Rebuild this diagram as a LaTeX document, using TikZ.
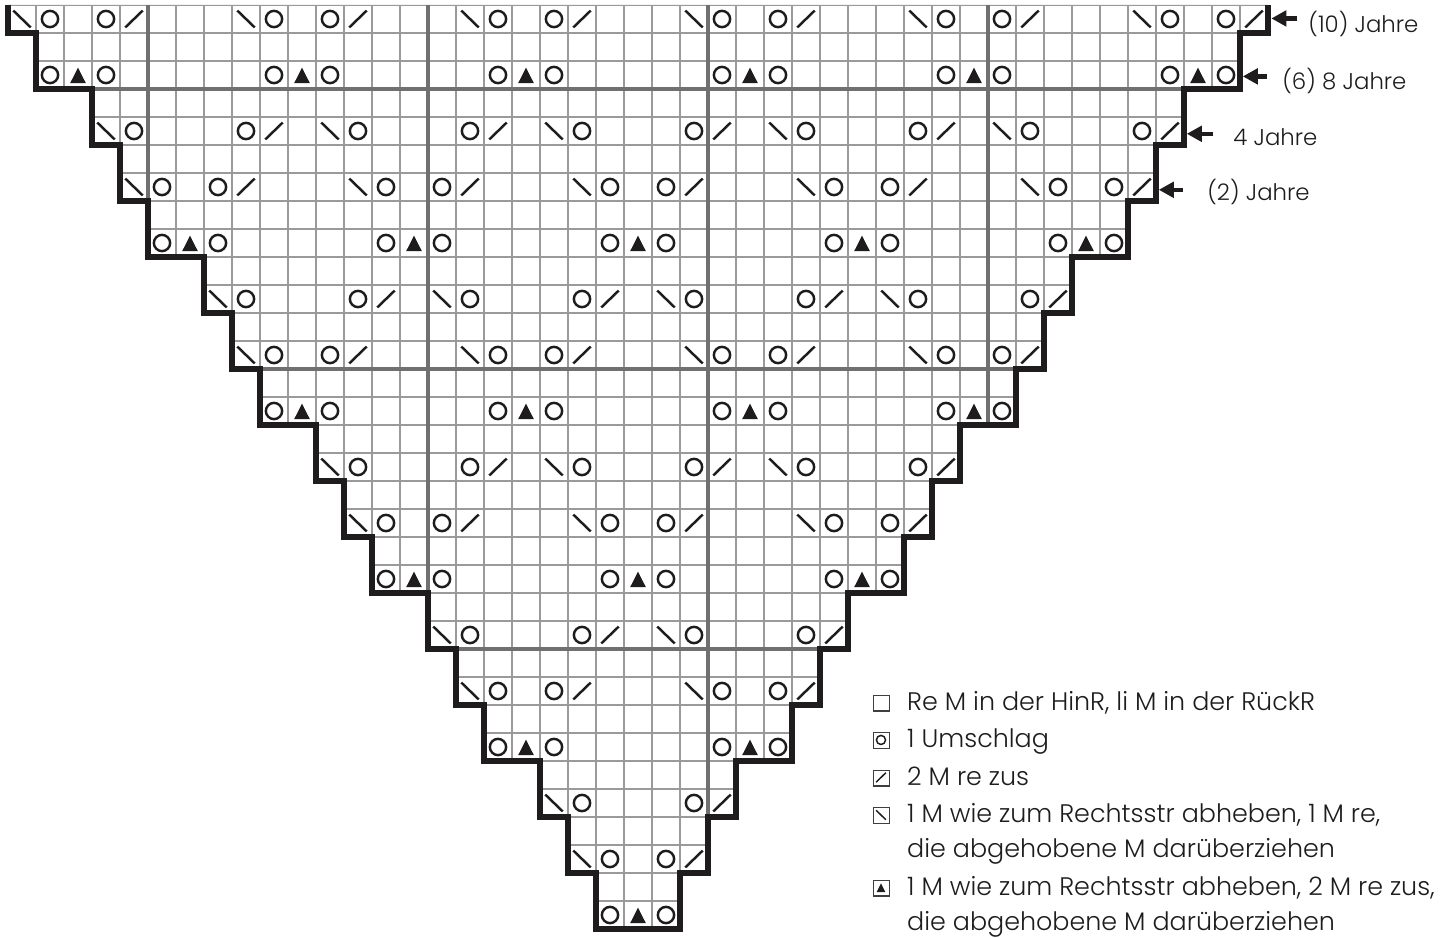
\documentclass[tikz,border=0pt]{standalone}
\usepackage{fontspec}
\setmainfont{Poppins Light}
\usetikzlibrary{arrows.meta}
\definecolor{ChartInk}{HTML}{1E1C1D}
\definecolor{GridThin}{HTML}{9A9A9A}
\definecolor{GridBold}{HTML}{707070}
\tikzset{
  every node/.style={text=ChartInk},
  cellgrid/.style={draw=GridThin, line width=0.6pt},
  boldgrid/.style={draw=GridBold, line width=1.6pt},
  rim/.style={draw=ChartInk, line width=2.8pt, line join=miter},
  stitch/.style={draw=ChartInk, line width=1.25pt},
  pointer/.style={-{Triangle[length=7.6pt,width=7.8pt]}, draw=ChartInk, line width=2.2pt},
  age/.style={font=\fontsize{11.6}{14}\selectfont, inner sep=0pt, anchor=base west},
  keybox/.style={draw=ChartInk!85, line width=0.6pt, minimum size=8pt, inner sep=0pt},
  keytext/.style={font=\fontsize{12.9}{15}\selectfont, inner sep=0pt, anchor=base west},
  yarnover/.pic={\draw[stitch] (0.5,0.5) circle (0.29);},
  ktog/.pic={\draw[stitch] (0.19,0.8) -- (0.81,0.2);},
  skpo/.pic={\draw[stitch] (0.19,0.2) -- (0.81,0.8);},
  sktpo/.pic={\fill[ChartInk] (0.22,0.79) -- (0.5,0.24) -- (0.78,0.79) -- cycle;},
}
% outline of the chart, open at the top edge
\def\chartrim{(0,0) -- (0,1) -- (1,1) -- (1,3) -- (3,3) -- (3,5) -- (4,5) -- (4,7)
  -- (5,7) -- (5,9) -- (7,9) -- (7,11) -- (8,11) -- (8,13) -- (9,13) -- (9,15)
  -- (11,15) -- (11,17) -- (12,17) -- (12,19) -- (13,19) -- (13,21) -- (15,21)
  -- (15,23) -- (16,23) -- (16,25) -- (17,25) -- (17,27) -- (19,27) -- (19,29)
  -- (20,29) -- (20,31) -- (21,31) -- (21,33) -- (24,33) -- (24,31) -- (25,31)
  -- (25,29) -- (26,29) -- (26,27) -- (28,27) -- (28,25) -- (29,25) -- (29,23)
  -- (30,23) -- (30,21) -- (32,21) -- (32,19) -- (33,19) -- (33,17) -- (34,17)
  -- (34,15) -- (36,15) -- (36,13) -- (37,13) -- (37,11) -- (38,11) -- (38,9)
  -- (40,9) -- (40,7) -- (41,7) -- (41,5) -- (42,5) -- (42,3) -- (44,3) -- (44,1)
  -- (45,1) -- (45,0)}
\begin{document}
\begin{tikzpicture}[x=0.5cm,y=-0.5cm]
  \useasboundingbox (-0.2857,-0.1786) rectangle (51.214,33.286);
  % grid: one cell = one stitch
  \begin{scope}
    \clip \chartrim -- cycle;
    \foreach \c in {0,...,45}
      \draw[cellgrid] (\c,0) -- (\c,33);
    \foreach \y in {0,...,33}
      \draw[cellgrid] (0,\y) -- (45,\y);
    \foreach \c in {5,15,25,35}
      \draw[boldgrid] (\c,0) -- (\c,33);
    \foreach \y in {3,13,23}
      \draw[boldgrid] (0,\y) -- (45,\y);
  \end{scope}
  \draw[rim] \chartrim;
  % rows 0, 6, 12, ... and 2, 8, 14, ...
  \foreach \kk in {0,...,5}{
    \pgfmathtruncatemacro{\last}{5-\kk}
    \pgfmathtruncatemacro{\rowA}{6*\kk}
    \pgfmathtruncatemacro{\rowC}{6*\kk+2}
    \foreach \mm in {0,...,\last}{
      \pgfmathtruncatemacro{\col}{4*\kk+8*\mm}
      \pic at (\col,\rowA) {skpo};
      \pic at (\col+1,\rowA) {yarnover};
      \pic at (\col+3,\rowA) {yarnover};
      \pic at (\col+4,\rowA) {ktog};
      \pic at (\col+1,\rowC) {yarnover};
      \pic at (\col+2,\rowC) {sktpo};
      \pic at (\col+3,\rowC) {yarnover};
    }
  }
  % rows 4, 10, 16, ...
  \foreach \kk in {0,...,4}{
    \pgfmathtruncatemacro{\last}{4-\kk}
    \pgfmathtruncatemacro{\rowB}{6*\kk+4}
    \foreach \mm in {0,...,\last}{
      \pgfmathtruncatemacro{\col}{4*\kk+3+8*\mm}
      \pic at (\col,\rowB) {skpo};
      \pic at (\col+1,\rowB) {yarnover};
      \pic at (\col+5,\rowB) {yarnover};
      \pic at (\col+6,\rowB) {ktog};
    }
  }
  % size marks
  \coordinate (tip0) at (45.12,0.48);
  \coordinate (tail0) at (46.05,0.48);
  \node[age] (age0) at (46.43,1) {(10) Jahre};
  \draw[pointer] (tail0) -- (tip0);
  \coordinate (tip2) at (44.1,2.55);
  \coordinate (tail2) at (44.98,2.55);
  \node[age] (age2) at (45.5,3.03) {(6) 8 Jahre};
  \draw[pointer] (tail2) -- (tip2);
  \coordinate (tip4) at (42.1,4.6);
  \coordinate (tail4) at (43.04,4.6);
  \node[age] (age4) at (43.75,5.02) {4 Jahre};
  \draw[pointer] (tail4) -- (tip4);
  \coordinate (tip6) at (41.1,6.6);
  \coordinate (tail6) at (41.95,6.6);
  \node[age] (age6) at (42.82,6.98) {(2) Jahre};
  \draw[pointer] (tail6) -- (tip6);
  % key
  \node[keybox] (key1) at (31.2,24.93) {};
  \node[keytext] (txt1) at (32.1,25.18) {Re M in der HinR, li M in der RückR};
  \node[keybox] (key2) at (31.2,26.27) {};
  \node[keytext] (txt2) at (32.1,26.52) {1 Umschlag};
  \node[keybox] (key3) at (31.2,27.61) {};
  \node[keytext] (txt3) at (32.1,27.86) {2 M re zus};
  \node[keybox] (key4) at (31.2,28.95) {};
  \node[keytext] (txt4) at (32.1,29.2) {1 M wie zum Rechtsstr abheben, 1 M re,};
  \node[keytext] (txt4b) at (32.1,30.45) {die abgehobene M darüberziehen};
  \node[keybox] (key5) at (31.2,31.54) {};
  \node[keytext] (txt5) at (32.1,31.79) {1 M wie zum Rechtsstr abheben, 2 M re zus,};
  \node[keytext] (txt5b) at (32.1,33.04) {die abgehobene M darüberziehen};
  \begin{scope}[stitch/.style={draw=ChartInk, line width=0.75pt}]
    \pic[scale=0.56] at (key2.north west) {yarnover};
    \pic[scale=0.56] at (key3.north west) {ktog};
    \pic[scale=0.56] at (key4.north west) {skpo};
    \pic[scale=0.56] at (key5.north west) {sktpo};
  \end{scope}
\end{tikzpicture}
\end{document}
